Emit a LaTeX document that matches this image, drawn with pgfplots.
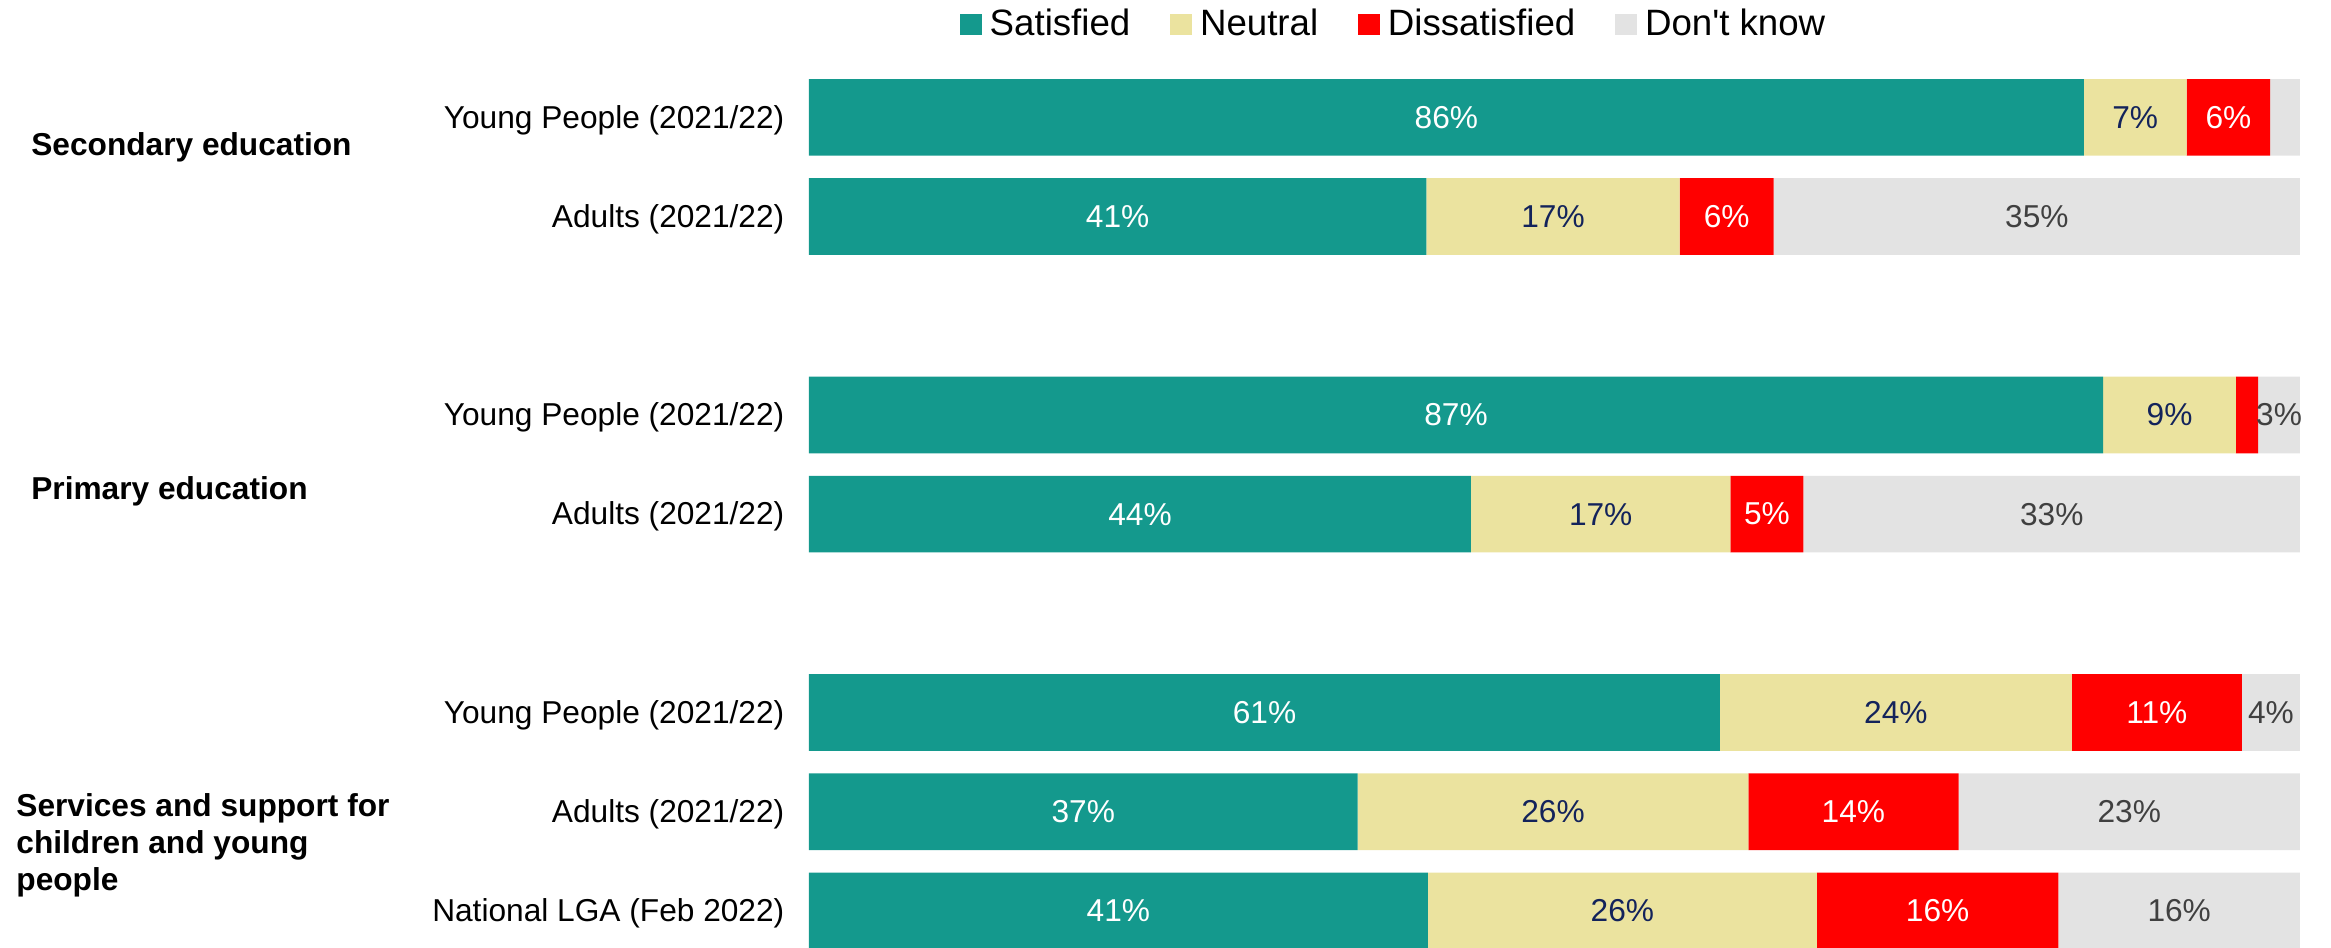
\documentclass[border=0pt]{standalone}
\usepackage{pgfplots}
\pgfplotsset{compat=1.18}
\usepackage{pgfplotstable}
\usepackage{fontspec}
\setmainfont{Liberation Sans}
\definecolor{csat}{HTML}{14998D}
\definecolor{cneu}{HTML}{EBE39F}
\definecolor{cdis}{HTML}{FF0000}
\definecolor{cdk}{HTML}{E3E3E3}
\definecolor{navy}{HTML}{13235B}
\definecolor{dgray}{HTML}{404040}

\pgfplotstableread{
y  S    N    D    K    sl    nl    dl    kl
0  85.5 6.9  5.6  2.0  86\%  7\%   6\%   {}
1  41.4 17.0 6.3  35.3 41\%  17\%  6\%   35\%
3  86.8 8.9  1.5  2.8  87\%  9\%   {}    3\%
4  44.4 17.4 4.9  33.3 44\%  17\%  5\%   33\%
6  61.1 23.6 11.4 3.9  61\%  24\%  11\%  4\%
7  36.8 26.2 14.1 22.9 37\%  26\%  14\%  23\%
8  41.5 26.1 16.2 16.2 41\%  26\%  16\%  16\%
}\datatable

\begin{document}
\begin{tikzpicture}
\useasboundingbox (-242.7pt,0pt) rectangle (456.6pt,284.1pt);
\begin{axis}[
  at={(0pt,0pt)}, anchor=south west,
  scale only axis, width=447.3pt, height=260.8pt,
  xbar stacked, bar width=0.773,
  xmin=0, xmax=100, ymin=-0.4, ymax=8.364, y dir=reverse,
  axis line style={draw=none}, xtick=\empty,
  ytick={0,1,3,4,6,7,8},
  yticklabels={Young People (2021/22), Adults (2021/22), Young People (2021/22), Adults (2021/22), Young People (2021/22), Adults (2021/22), National LGA (Feb 2022)},
  major tick length=0pt,
  yticklabel style={font=\fontsize{9.5}{11}\selectfont, inner sep=0pt, xshift=-7.2pt, yshift=-0.8pt},
  clip=false,
  legend columns=4,
  legend style={draw=none, fill=none, at={(0.3937,1)}, anchor=center, yshift=16pt,
    font=\fontsize{11}{13}\selectfont,
    /tikz/every odd column/.append style={column sep=0.4pt},
    /tikz/every even column/.append style={column sep=10pt}},
  legend image code/.code={\fill[#1] (0pt,-3.25pt) rectangle (6.5pt,3.25pt);},
  point meta=explicit symbolic,
  nodes near coords={\pgfplotspointmeta},
  every node near coord/.append style={anchor=center, font=\fontsize{9.5}{11}\selectfont},
]
\addplot[fill=csat, draw=none, every node near coord/.append style={text=white}] table[x=S, y=y, meta=sl] {\datatable};
\addlegendentry{Satisfied}
\addplot[fill=cneu, draw=none, every node near coord/.append style={text=navy}] table[x=N, y=y, meta=nl] {\datatable};
\addlegendentry{Neutral}
\addplot[fill=cdis, draw=none, every node near coord/.append style={text=white}] table[x=D, y=y, meta=dl] {\datatable};
\addlegendentry{Dissatisfied}
\addplot[fill=cdk, draw=none, every node near coord/.append style={text=dgray}] table[x=K, y=y, meta=kl] {\datatable};
\addlegendentry{Don\textquotesingle t know}

\node[anchor=west, font=\bfseries\fontsize{9.5}{11}\selectfont, inner sep=0pt] at (axis cs:-52.2,0.30) {Secondary education};
\node[anchor=west, font=\bfseries\fontsize{9.5}{11}\selectfont, inner sep=0pt] at (axis cs:-52.2,3.77) {Primary education};
\node[anchor=west, align=left, font=\bfseries\fontsize{9.5}{11.1}\selectfont, inner sep=0pt] at (axis cs:-53.2,7.34) {Services and support for\\children and young\\people};
\end{axis}
\end{tikzpicture}
\end{document}
